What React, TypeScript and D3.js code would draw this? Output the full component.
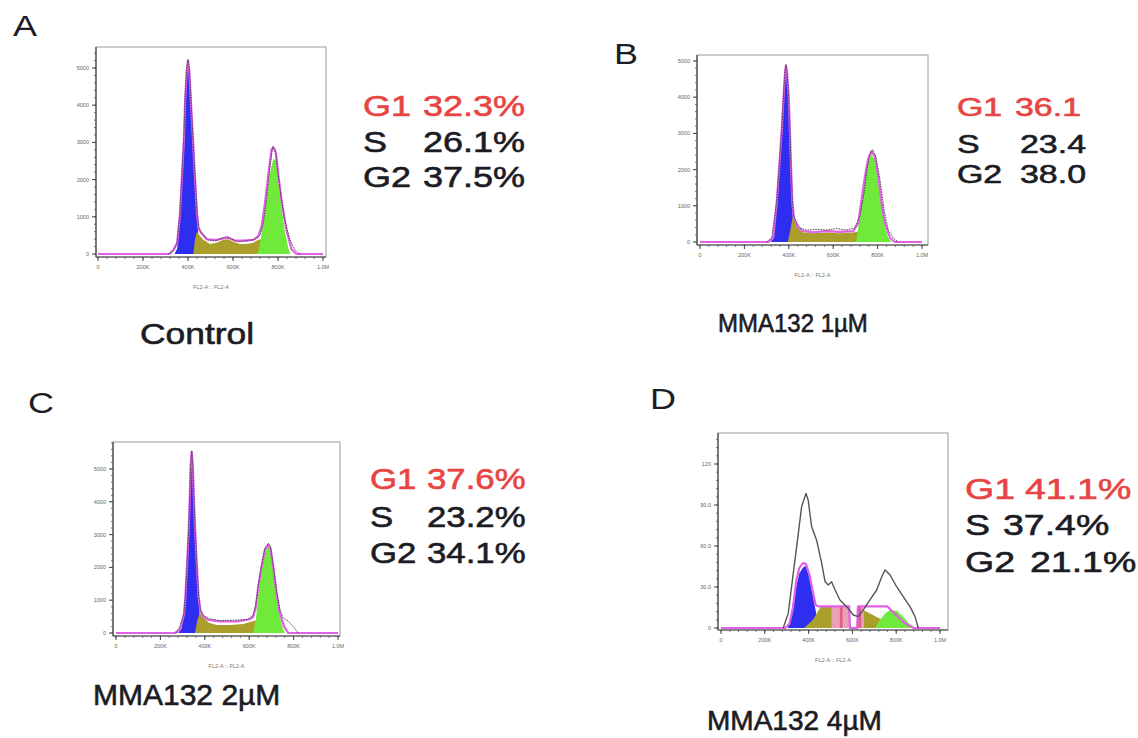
import React from "react";
import * as d3 from "d3";

type Pt = [number, number];

// ---- Panel A: Control (x in K, y in counts) ----
const aBlue: Pt[] = [[340,0],[352,150],[364,1000],[373,2000],[382,3000],[387,4000],[394,4800],[400,5150],[406,4800],[413,4000],[422,3000],[431,2000],[440,1000],[447,400],[455,100],[462,0]];
const aOlive: Pt[] = [[424,0],[431,380],[439,600],[450,510],[468,380],[498,270],[527,305],[557,380],[579,395],[601,330],[631,270],[660,270],[690,305],[712,380],[727,395],[750,290],[779,150],[808,40],[830,0]];
const aGreen: Pt[] = [[705,0],[712,50],[720,270],[735,900],[750,1520],[764,2150],[779,2560],[791,2510],[801,1970],[816,1250],[830,630],[845,180],[855,0]];
const aFit: Pt[] = [[0,0],[318,0],[336,110],[352,300],[364,1050],[373,2080],[382,3100],[387,4100],[394,4900],[400,5200],[406,4900],[413,4100],[422,3100],[431,2050],[440,1100],[447,700],[455,600],[483,395],[527,380],[557,420],[579,440],[609,360],[646,360],[690,380],[712,470],[727,735],[742,1360],[756,2080],[771,2800],[779,2870],[791,2710],[801,2150],[816,1430],[838,630],[860,130],[882,0],[1000,0]];
const aRaw: Pt[] = [[310,0],[330,80],[350,250],[364,1080],[373,2150],[382,3200],[387,4200],[394,5000],[400,5230],[406,4950],[413,4150],[422,3150],[431,2100],[440,1150],[447,720],[460,560],[490,380],[520,350],[550,420],[572,470],[594,395],[623,330],[660,350],[697,395],[720,510],[735,825],[750,1520],[764,2330],[776,2885],[787,2830],[797,2330],[812,1610],[830,900],[853,380],[875,110],[898,0]];

// ---- Panel B: MMA132 1µM ----
const bBlue: Pt[] = [[318,0],[330,100],[345,1000],[357,2000],[368,3000],[377,4000],[383,4600],[387,4800],[392,4600],[399,4000],[405,3000],[410,2000],[416,1000],[422,400],[430,100],[438,0]];
const bOlive: Pt[] = [[395,0],[405,260],[417,700],[428,560],[443,370],[465,260],[510,240],[570,260],[630,240],[690,260],[720,300],[743,260],[766,120],[781,65],[796,30],[818,0]];
const bGreen: Pt[] = [[698,0],[705,60],[713,430],[728,1080],[743,1720],[758,2220],[773,2420],[788,2280],[803,1720],[818,980],[833,430],[848,110],[863,0]];
const bFit: Pt[] = [[0,0],[308,0],[330,130],[345,1050],[357,2080],[368,3080],[377,4080],[383,4680],[387,4870],[392,4680],[399,4080],[405,3080],[410,2080],[416,1100],[422,700],[430,560],[443,390],[465,300],[510,270],[570,300],[630,280],[690,300],[713,530],[728,1170],[743,1810],[758,2310],[773,2500],[788,2370],[803,1810],[818,1070],[833,530],[856,110],[878,0],[1000,0]];
const bRaw: Pt[] = [[300,0],[323,110],[345,1100],[357,2120],[368,3120],[377,4120],[383,4720],[387,4900],[392,4720],[399,4120],[405,3120],[410,2120],[416,1150],[422,740],[430,600],[450,390],[480,330],[526,350],[570,330],[616,370],[660,330],[698,390],[720,720],[739,1350],[754,2090],[769,2500],[778,2550],[793,2320],[811,1720],[829,890],[848,330],[871,110],[893,0]];

// ---- Panel C: MMA132 2µM ----
const cBlue: Pt[] = [[280,0],[296,150],[312,1000],[320,2000],[327,3000],[332,4000],[336,5000],[341,5450],[346,5000],[351,4000],[357,3000],[364,2000],[372,1000],[380,300],[388,0]];
const cOlive: Pt[] = [[356,0],[366,390],[378,600],[393,500],[416,320],[453,245],[514,245],[574,275],[611,350],[634,390],[657,350],[679,245],[701,110],[724,0]];
const cGreen: Pt[] = [[618,0],[626,300],[630,410],[641,1220],[656,1930],[671,2440],[686,2640],[696,2540],[708,1930],[723,1120],[738,510],[753,100],[762,0]];
const cFit: Pt[] = [[0,0],[266,0],[288,100],[306,560],[312,1050],[320,2080],[327,3080],[332,4080],[336,5080],[341,5520],[346,5080],[351,4080],[357,3080],[364,2080],[372,1100],[381,660],[393,500],[416,400],[468,350],[544,350],[604,420],[619,500],[630,810],[641,1420],[656,2030],[671,2540],[686,2690],[696,2590],[708,2030],[723,1220],[738,610],[757,200],[776,0],[1000,0]];
const cRaw: Pt[] = [[270,0],[288,200],[306,600],[312,1100],[320,2120],[327,3120],[332,4120],[336,5120],[341,5550],[346,5120],[351,4120],[357,3120],[364,2120],[372,1150],[381,690],[396,530],[423,430],[468,380],[529,390],[589,410],[617,530],[630,870],[641,1470],[656,2080],[671,2590],[686,2740],[696,2620],[708,2080],[723,1320],[738,710],[753,460],[776,360],[799,190],[821,0]];

// ---- Panel D: MMA132 4µM ----
const dBlue: Pt[] = [[305,0],[320,10.7],[336,25.4],[358,40],[374,44],[386,45.5],[402,38],[418,25.4],[429,15.6],[440,5.9],[449,0]];
const dOliveLow: Pt[] = [[380,0],[420,6],[455,15.6],[581,15.6],[589,0]];
const dOliveHigh: Pt[] = [[650,0],[650,13.2],[700,9],[760,4],[802,0]];
const dGreen: Pt[] = [[703,0],[726,5.9],[749,10.7],[772,13.2],[802,12.7],[832,8.3],[863,2.2],[878,0]];
const dPinkLight: Pt[] = [[505,589],[620,650]];
const dPinkDark: Pt[] = [[543,555],[626,640]];
const dPinkTop = 15.8;
const dFit: Pt[] = [[0,0],[293,0],[312,3],[328,14],[343,34],[358,44],[374,47.5],[388,47],[404,39],[420,26],[432,17],[445,15.8],[585,15.8],[589,0],[622,0],[626,15.8],[760,15.8],[790,11],[835,4],[880,0],[1000,0]];
const dRaw: Pt[] = [[284,0],[307,10.7],[330,40],[353,69],[368,88.7],[388,98.5],[398,93.6],[414,74],[437,64],[460,47.3],[475,33.9],[490,31.5],[505,33.9],[521,27.8],[543,20.5],[574,15.6],[604,9.5],[627,8.3],[650,13.2],[680,20.5],[711,27.8],[734,37.5],[749,42.4],[772,38.8],[802,30.2],[832,22.9],[863,15.6],[886,8.3],[901,0]];

// ---- axes & text ----
const xTicks = [0, 200, 400, 600, 800, 1000];
const xTickLabels = ["0", "200K", "400K", "600K", "800K", "1.0M"];
const yTicksCount = [0, 1000, 2000, 3000, 4000, 5000];
const yTickLabelsCount = ["0", "1000", "2000", "3000", "4000", "5000"];
const yTicksD = [0, 30, 60, 90, 120];
const yTickLabelsD = ["0", "30.0", "60.0", "90.0", "120"];
const phaseNames = ["G1", "S", "G2"];
const statsA = ["32.3%", "26.1%", "37.5%"];
const statsB = ["36.1", "23.4", "38.0"];
const statsC = ["37.6%", "23.2%", "34.1%"];
const statsD = ["41.1%", "37.4%", "21.1%"];
const captions = ["Control", "MMA132 1µM", "MMA132 2µM", "MMA132 4µM"];
const letters = ["A", "B", "C", "D"];

const C_BLUE = "#2e2ef0";
const C_OLIVE = "#ab9f2c";
const C_GREEN = "#70ea3a";
const C_FIT = "#e060e6";
const C_RED = "#e84444";
const C_TEXT = "#1c1c24";
const FONT = "'Liberation Sans', Arial, sans-serif";

const panels = [
  {
    frame: { l: 96, t: 47, r: 326, b: 257 }, xr: [98, 323], yr: [254, 68], ymax: 5000,
    yTicks: yTicksCount, yLabels: yTickLabelsCount, yMinor: 200,
    blue: aBlue, olive: [aOlive], green: aGreen, fit: aFit, raw: aRaw, rawSolid: false,
    stats: statsA, caption: captions[0], letter: letters[0],
    letterPos: [13, 36], cap: { x: 140, y: 344, fs: 30, sx: 1.18 },
    txt: { lx: 363, vx: [423, 423, 423], ys: [116, 152, 187], fs: 30, sx: 1.2 },
  },
  {
    frame: { l: 697, t: 55, r: 928, b: 245 }, xr: [700, 922], yr: [242, 61], ymax: 5000,
    yTicks: yTicksCount, yLabels: yTickLabelsCount, yMinor: 200,
    blue: bBlue, olive: [bOlive], green: bGreen, fit: bFit, raw: bRaw, rawSolid: false,
    stats: statsB, caption: captions[1], letter: letters[1],
    letterPos: [614, 64], cap: { x: 718, y: 332, fs: 25, sx: 0.96 },
    txt: { lx: 957, vx: [1015, 1020, 1020], ys: [116, 153, 183], fs: 26.5, sx: 1.28 },
  },
  {
    frame: { l: 113, t: 442, r: 340, b: 636 }, xr: [116, 338], yr: [633, 469], ymax: 5000,
    yTicks: yTicksCount, yLabels: yTickLabelsCount, yMinor: 200,
    blue: cBlue, olive: [cOlive], green: cGreen, fit: cFit, raw: cRaw, rawSolid: false,
    stats: statsC, caption: captions[2], letter: letters[2],
    letterPos: [28, 413], cap: { x: 93, y: 705, fs: 30, sx: 1.0 },
    txt: { lx: 370, vx: [427, 427, 427], ys: [489, 527, 563], fs: 30, sx: 1.16 },
  },
  {
    frame: { l: 718, t: 433, r: 948, b: 630 }, xr: [721, 940], yr: [628, 464], ymax: 120,
    yTicks: yTicksD, yLabels: yTickLabelsD, yMinor: 6,
    blue: dBlue, olive: [dOliveLow, dOliveHigh], green: dGreen, fit: dFit, raw: dRaw, rawSolid: true,
    stats: statsD, caption: captions[3], letter: letters[3],
    letterPos: [650, 409], cap: { x: 707, y: 730, fs: 28, sx: 1.0 },
    txt: { lx: 965, vx: [1025, 1003, 1030], ys: [499, 535, 572], fs: 30, sx: 1.25 },
  },
];

function Panel({ p, idx }: { p: any; idx: number }) {
  const { frame } = p;
  const x = d3.scaleLinear().domain([0, 1000]).range(p.xr);
  const y = d3.scaleLinear().domain([0, p.ymax]).range(p.yr);
  const xMax = x.invert(frame.r);
  const yTop = y.invert(frame.t);

  const area = d3.area<Pt>().x((d) => x(d[0])).y0(y(0)).y1((d) => y(d[1]));
  const line = d3.line<Pt>().x((d) => x(d[0])).y((d) => y(d[1]));

  const xMinor = d3.range(0, xMax, 40);
  const yMinor = d3.range(0, yTop, p.yMinor);
  const clipId = `clip${idx}`;

  return (
    <g>
      <defs>
        <clipPath id={clipId}>
          <rect x={frame.l} y={frame.t} width={frame.r - frame.l} height={frame.b - frame.t} />
        </clipPath>
      </defs>
      <rect x={frame.l} y={frame.t} width={frame.r - frame.l} height={frame.b - frame.t}
        fill="#fff" stroke="#9a9a9a" strokeWidth={1} />
      <g clipPath={`url(#${clipId})`}>
        <path d={area(p.blue) ?? ""} fill={C_BLUE} />
        {p.olive.map((o: Pt[], i: number) => (
          <path key={i} d={area(o) ?? ""} fill={C_OLIVE} />
        ))}
        {idx === 3 && dPinkLight.map((r, i) => (
          <rect key={"pl" + i} x={x(r[0])} width={x(r[1]) - x(r[0])} y={y(dPinkTop)}
            height={y(0) - y(dPinkTop)} fill="#eca0b4" />
        ))}
        {idx === 3 && dPinkDark.map((r, i) => (
          <rect key={"pd" + i} x={x(r[0])} width={x(r[1]) - x(r[0])} y={y(dPinkTop)}
            height={y(0) - y(dPinkTop)} fill="#e05c8c" />
        ))}
        <path d={area(p.green) ?? ""} fill={C_GREEN} />
        <path d={line(p.fit) ?? ""} fill="none" stroke={C_FIT} strokeWidth={2.2} strokeLinejoin="round" />
        <path d={line(p.raw) ?? ""} fill="none" stroke={p.rawSolid ? "#555" : "#3a3a3a"}
          strokeWidth={p.rawSolid ? 1.4 : 0.9} strokeDasharray={p.rawSolid ? undefined : "1.6 1"}
          strokeLinejoin="round" />
      </g>
      {/* axes */}
      <line x1={frame.l} x2={frame.r} y1={frame.b} y2={frame.b} stroke="#444" strokeWidth={1.2} />
      <line x1={frame.l} x2={frame.l} y1={frame.t} y2={frame.b} stroke="#444" strokeWidth={1.2} />
      {xMinor.map((v) => (
        <line key={"xm" + v} x1={x(v)} x2={x(v)} y1={frame.b} y2={frame.b + 2} stroke="#555" strokeWidth={0.8} />
      ))}
      {xTicks.map((v, i) => (
        <g key={"xt" + v}>
          <line x1={x(v)} x2={x(v)} y1={frame.b} y2={frame.b + 4} stroke="#444" strokeWidth={1} />
          <text x={x(v)} y={frame.b + 12} fontSize={5.5} fill="#666" textAnchor="middle" fontFamily={FONT}>
            {xTickLabels[i]}
          </text>
        </g>
      ))}
      {yMinor.map((v) => (
        <line key={"ym" + v} x1={frame.l - 2} x2={frame.l} y1={y(v)} y2={y(v)} stroke="#555" strokeWidth={0.8} />
      ))}
      {p.yTicks.map((v: number, i: number) => (
        <g key={"yt" + v}>
          <line x1={frame.l - 4} x2={frame.l} y1={y(v)} y2={y(v)} stroke="#444" strokeWidth={1} />
          <text x={frame.l - 7} y={y(v) + 2} fontSize={5.5} fill="#666" textAnchor="end" fontFamily={FONT}>
            {p.yLabels[i]}
          </text>
        </g>
      ))}
      <text x={(frame.l + frame.r) / 2} y={frame.b + 32} fontSize={5.5} fill="#777" textAnchor="middle" fontFamily={FONT}>
        FL2-A :: FL2-A
      </text>

      {/* panel letter */}
      <text transform={`translate(${p.letterPos[0]},${p.letterPos[1]}) scale(1.2,1)`} fontSize={30}
        fill={C_TEXT} fontFamily={FONT}>
        {p.letter}
      </text>

      {/* phase percentages */}
      {phaseNames.map((n, i) => (
        <g key={n} fill={i === 0 ? C_RED : C_TEXT} stroke={i === 0 ? C_RED : C_TEXT} strokeWidth={0.6}
          fontSize={p.txt.fs} fontFamily={FONT}>
          <text transform={`translate(${p.txt.lx},${p.txt.ys[i]}) scale(${p.txt.sx},1)`}>{n}</text>
          <text transform={`translate(${p.txt.vx[i]},${p.txt.ys[i]}) scale(${p.txt.sx},1)`}>{p.stats[i]}</text>
        </g>
      ))}

      {/* caption */}
      <text transform={`translate(${p.cap.x},${p.cap.y}) scale(${p.cap.sx},1)`} fontSize={p.cap.fs}
        fill={C_TEXT} stroke={C_TEXT} strokeWidth={0.6} fontFamily={FONT}>
        {p.caption}
      </text>
    </g>
  );
}

export default function App() {
  return (
    <svg width={1138} height={738} style={{ position: "absolute", left: 0, top: 0, background: "#fff" }}>
      <rect width={1138} height={738} fill="#fff" />
      {panels.map((p, i) => (
        <Panel key={i} p={p} idx={i} />
      ))}
    </svg>
  );
}
